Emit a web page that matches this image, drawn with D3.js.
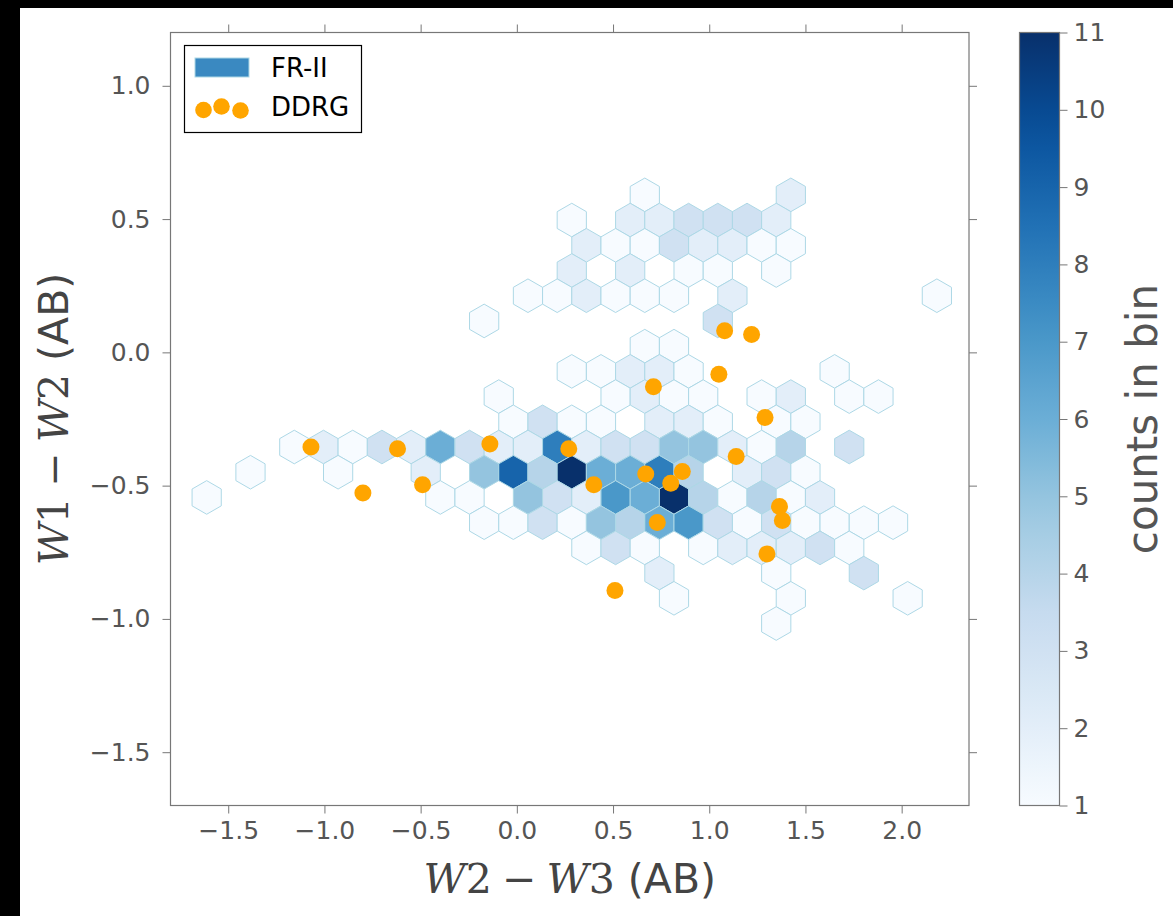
<!DOCTYPE html>
<html>
<head>
<meta charset="utf-8">
<script src="https://cdn.jsdelivr.net/npm/d3@7/dist/d3.min.js"></script>
<style>
  html, body { margin: 0; padding: 0; background: #000; }
  svg { display: block; }
</style>
</head>
<body>
<svg id="chart"></svg>
<script>
// hexbin lattice of the FR-II sample (gridsize 25 over the x extent)
const hexXmin = -1.612   // x of lattice column 0
const hexSx = 0.1518     // hex width in x units
const hexYmin = -1.0173  // y of lattice row 0
const hexSy = 0.1892     // lattice period in y (rows are sy/2 apart)

// FR-II bins, one entry per lattice row:
// [row, first column, counts every 2nd column from there (0 = empty bin)]
const hexRows = [
  [17, 30, [1, 0, 0, 0, 0, 2]],
  [16, 25, [1, 0, 2, 2, 3, 3, 3, 2]],
  [15, 26, [2, 1, 1, 3, 2, 2, 1, 1]],
  [14, 25, [2, 0, 2, 0, 1, 1, 0, 1]],
  [13, 22, [1, 1, 2, 1, 1, 1, 0, 2, 0, 0, 0, 0, 0, 0, 1]],
  [12, 19, [1, 0, 0, 0, 0, 0, 0, 0, 3]],
  [11, 30, [1, 1]],
  [10, 25, [1, 1, 2, 2, 1, 0, 0, 0, 0, 1]],
  [9, 20, [1, 0, 0, 0, 1, 2, 1, 1, 0, 1, 2, 0, 1, 1]],
  [8, 21, [1, 3, 1, 1, 0, 2, 2, 1, 0, 1, 1]],
  [7, 6, [1, 2, 1, 3, 2, 6, 3, 2, 2, 8, 2, 3, 3, 5, 5, 2, 1, 4, 0, 3]],
  [6, 3, [1, 0, 0, 1, 0, 0, 2, 0, 5, 9, 4, 11, 6, 6, 8, 4, 0, 2, 3, 1]],
  [5, 0, [1, 0, 0, 0, 0, 0, 0, 0, 1, 1, 0, 5, 3, 2, 7, 6, 11, 4, 1, 4, 1, 2]],
  [4, 19, [1, 1, 3, 1, 5, 4, 6, 7, 3, 1, 3, 1, 1, 1, 1]],
  [3, 26, [1, 3, 1, 0, 1, 2, 2, 2, 3, 1]],
  [2, 31, [2, 0, 0, 0, 1, 0, 0, 3]],
  [1, 32, [1, 0, 0, 0, 1, 0, 0, 0, 1]],
  [0, 39, [1]]
]

// DDRG sources
const ddrgX = [-1.07, -0.80, -0.62, -0.49, -0.14, 0.27, 0.40, 0.71, 0.67, 0.86, 0.80, 0.73,
               1.05, 1.14, 1.08, 1.22, 1.29, 1.365, 1.38, 1.30, 0.51]
const ddrgY = [-0.355, -0.528, -0.362, -0.497, -0.344, -0.362, -0.497, -0.129, -0.456, -0.447, -0.491, -0.638,
               -0.082, -0.391, 0.081, 0.067, -0.244, -0.578, -0.631, -0.756, -0.893]

const xTicks = [-1.5, -1.0, -0.5, 0.0, 0.5, 1.0, 1.5, 2.0]
const yTicks = [-1.5, -1.0, -0.5, 0.0, 0.5, 1.0]
const cbTicks = [1, 2, 3, 4, 5, 6, 7, 8, 9, 10, 11]
const blues9 = ['#f7fbff', '#deebf7', '#c6dbef', '#9ecae1', '#6baed6', '#4292c6', '#2171b5', '#08519c', '#08306b']

// canvas
let width = 1173
let height = 916
let plot = {left: 170.5, right: 969, top: 32.5, bottom: 805.5}
let cbar = {left: 1019.5, right: 1059.5}
let tickFont = 25
let labelFont = 41

let svg = d3.select('#chart').attr('width', width).attr('height', height)
svg.append('rect').attr('width', width).attr('height', height).attr('fill', '#000')
svg.append('rect').attr('x', 20).attr('y', 8).attr('width', width - 20).attr('height', height - 8).attr('fill', '#fff')

let xScale = d3.scaleLinear().domain([-1.8, 2.35]).range([plot.left, plot.right])
let yScale = d3.scaleLinear().domain([-1.7, 1.2]).range([plot.bottom, plot.top])
let colorScale = d3.scaleLinear()
                   .domain(blues9.map((c, i) => 1 + i * 10 / 8))
                   .range(blues9)
                   .interpolate(d3.interpolateRgb)
let cbScale = d3.scaleLinear().domain([1, 11]).range([plot.bottom, plot.top])

// flatten the rows into bins
let bins = []
hexRows.forEach(([row, col0, counts]) => {
    counts.forEach((n, i) => {
        if (n > 0) bins.push({x: hexXmin + (col0 + 2 * i) * hexSx / 2, y: hexYmin + row * hexSy / 2, n: n})
    })
})

// hexagon corners in data units, like matplotlib's hexbin polygon
let corners = [[0, hexSy / 3], [hexSx / 2, hexSy / 6], [hexSx / 2, -hexSy / 6],
               [0, -hexSy / 3], [-hexSx / 2, -hexSy / 6], [-hexSx / 2, hexSy / 6]]
let hexPath = (d) => 'M' + corners.map(c => xScale(d.x + c[0]) + ',' + yScale(d.y + c[1])).join('L') + 'Z'

svg.append('defs').append('clipPath').attr('id', 'plotClip')
   .append('rect')
   .attr('x', plot.left).attr('y', plot.top)
   .attr('width', plot.right - plot.left).attr('height', plot.bottom - plot.top)

let plotArea = svg.append('g').attr('clip-path', 'url(#plotClip)')

plotArea.selectAll('path.hex')
    .data(bins)
    .enter()
    .append('path')
    .attr('class', 'hex')
    .attr('d', hexPath)
    .attr('fill', d => colorScale(d.n))
    .attr('stroke', '#add8e6')
    .attr('stroke-width', 1)

plotArea.selectAll('circle.ddrg')
    .data(ddrgX)
    .enter()
    .append('circle')
    .attr('class', 'ddrg')
    .attr('cx', d => xScale(d))
    .attr('cy', (d, i) => yScale(ddrgY[i]))
    .attr('r', 8.5)
    .attr('fill', '#ffa500')

// axes on all four sides, ticks pointing out
let styleAxis = (g) => {
    g.select('.domain').remove()
    g.selectAll('.tick line').attr('stroke', '#777')
    g.selectAll('.tick text')
     .attr('fill', '#555')
     .style('font-family', 'DejaVu Sans')
     .style('font-size', tickFont + 'px')
}
let fmt = d3.format('.1f')

svg.append('g')
   .attr('transform', 'translate(0,' + plot.bottom + ')')
   .call(d3.axisBottom(xScale).tickValues(xTicks).tickFormat(fmt).tickSize(8).tickPadding(8))
   .call(styleAxis)
svg.append('g')
   .attr('transform', 'translate(0,' + plot.top + ')')
   .call(d3.axisTop(xScale).tickValues(xTicks).tickFormat('').tickSize(8))
   .call(styleAxis)
svg.append('g')
   .attr('transform', 'translate(' + plot.left + ',0)')
   .call(d3.axisLeft(yScale).tickValues(yTicks).tickFormat(fmt).tickSize(8).tickPadding(12))
   .call(styleAxis)
svg.append('g')
   .attr('transform', 'translate(' + plot.right + ',0)')
   .call(d3.axisRight(yScale).tickValues(yTicks).tickFormat('').tickSize(8))
   .call(styleAxis)

svg.append('rect')
   .attr('x', plot.left).attr('y', plot.top)
   .attr('width', plot.right - plot.left).attr('height', plot.bottom - plot.top)
   .attr('fill', 'none').attr('stroke', '#777').attr('stroke-width', 1.2)

// axis labels (math part in serif italic, operator spaced like mathtext)
let mathLabel = (sel, a, b) => {
    sel.append('tspan').style('font-family', 'DejaVu Serif').style('font-style', 'italic').text('W')
    sel.append('tspan').style('font-family', 'DejaVu Serif').text(a + '\u2005\u2212\u2005')
    sel.append('tspan').style('font-family', 'DejaVu Serif').style('font-style', 'italic').text('W')
    sel.append('tspan').style('font-family', 'DejaVu Serif').text(b + ' ')
    sel.append('tspan').style('font-family', 'DejaVu Sans').text('(AB)')
}
svg.append('text')
   .attr('x', (plot.left + plot.right) / 2).attr('y', 893)
   .attr('text-anchor', 'middle').attr('fill', '#444')
   .style('font-size', labelFont + 'px')
   .call(mathLabel, '2', '3')
svg.append('text')
   .attr('transform', 'translate(68,' + (plot.top + plot.bottom) / 2 + ') rotate(-90)')
   .attr('text-anchor', 'middle').attr('fill', '#444')
   .style('font-size', labelFont + 'px')
   .call(mathLabel, '1', '2')

// colorbar
let grad = svg.select('defs').append('linearGradient')
              .attr('id', 'cbGrad').attr('x1', 0).attr('y1', 1).attr('x2', 0).attr('y2', 0)
d3.range(0, 1.0001, 0.05).forEach(t => {
    grad.append('stop').attr('offset', t).attr('stop-color', colorScale(1 + 10 * t))
})
svg.append('rect')
   .attr('x', cbar.left).attr('y', plot.top)
   .attr('width', cbar.right - cbar.left).attr('height', plot.bottom - plot.top)
   .attr('fill', 'url(#cbGrad)').attr('stroke', '#777').attr('stroke-width', 1.2)
svg.append('g')
   .attr('transform', 'translate(' + cbar.right + ',0)')
   .call(d3.axisRight(cbScale).tickValues(cbTicks).tickFormat(d3.format('d')).tickSize(8).tickPadding(6))
   .call(styleAxis)
svg.append('text')
   .attr('transform', 'translate(1157,' + (plot.top + plot.bottom) / 2 + ') rotate(-90)')
   .attr('text-anchor', 'middle').attr('fill', '#555')
   .style('font-family', 'DejaVu Sans').style('font-size', '42px')
   .text('counts in bin')

// legend
let legend = svg.append('g')
legend.append('rect')
      .attr('x', 184.5).attr('y', 45.5).attr('width', 177).attr('height', 87)
      .attr('fill', '#fff').attr('stroke', '#000').attr('stroke-width', 1.2)
legend.append('rect')
      .attr('x', 195).attr('y', 58).attr('width', 54).attr('height', 19)
      .attr('fill', '#3a89c1').attr('stroke', '#add8e6')
legend.selectAll('circle')
      .data([[203.5, 110], [221.5, 106.5], [240.5, 110.5]])
      .enter()
      .append('circle')
      .attr('cx', d => d[0]).attr('cy', d => d[1]).attr('r', 8.3)
      .attr('fill', '#ffa500')
legend.selectAll('text')
      .data([['FR-II', 77], ['DDRG', 116]])
      .enter()
      .append('text')
      .attr('x', 271).attr('y', d => d[1])
      .attr('fill', '#000')
      .style('font-family', 'DejaVu Sans').style('font-size', '26px')
      .text(d => d[0])
</script>
</body>
</html>
